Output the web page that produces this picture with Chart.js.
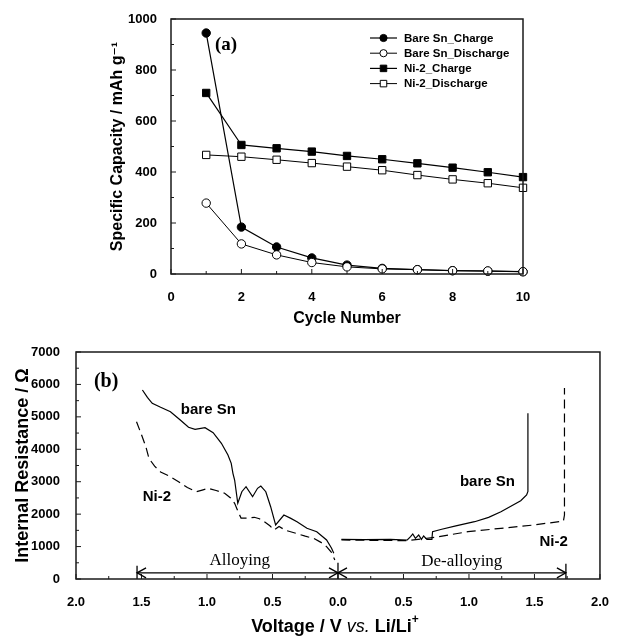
<!DOCTYPE html>
<html><head><meta charset="utf-8">
<script src="https://cdn.jsdelivr.net/npm/chart.js@4.4.1/dist/chart.umd.min.js"></script>
<style>
html,body{margin:0;padding:0;background:#fff;}
#wrapA{position:absolute;left:0;top:0;width:617px;height:335px;}
#wrapB{position:absolute;left:0;top:335px;width:617px;height:302px;}
canvas{display:block;}
</style></head><body>
<div id="wrapA"><canvas id="chartA" width="617" height="335"></canvas></div>
<div id="wrapB"><canvas id="chartB" width="617" height="302"></canvas></div>
<script>
// ---------- Panel (a) data ----------
const cycles = [1,2,3,4,5,6,7,8,9,10];
const bareSnCharge    = [945,184,106,63,35,22,17,13,11,9];
const bareSnDischarge = [278,118,75,45,28,20,17,13,12,9];
const ni2Charge       = [710,506,493,480,463,450,434,417,399,380];
const ni2Discharge    = [467,460,448,435,421,407,388,371,356,338];
const seriesNamesA = ['Bare Sn_Charge','Bare Sn_Discharge','Ni-2_Charge','Ni-2_Discharge'];
const cycleTicks = [0,2,4,6,8,10];
const cycleMinorTicks = [1,3,5,7,9];
const capacityTicks = [0,200,400,600,800,1000];
const capacityMinorTicks = [100,300,500,700,900];

// ---------- Panel (b) data (voltage vs. Li/Li+, resistance in ohm) ----------
// alloying branch (plotted on the left half, voltage decreasing toward 0)
const bareSnAlloyV = [1.493,1.455,1.418,1.354,1.279,1.204,1.141,1.091,1.015,0.953,0.890,0.840,0.815,0.802,0.789,0.765,0.734,0.702,0.652,0.614,0.589,0.551,0.514,0.476,0.413,0.36,0.313,0.237,0.162,0.087,0.049,0.032];
const bareSnAlloyR = [5828,5600,5418,5294,5159,4903,4678,4616,4665,4511,4184,3824,3568,3259,3053,2334,2692,2846,2538,2797,2868,2692,2229,1665,1973,1870,1767,1563,1458,1203,947,792];
const ni2AlloyV = [1.538,1.50,1.467,1.443,1.40,1.354,1.292,1.217,1.15,1.079,1.03,0.991,0.93,0.865,0.82,0.789,0.76,0.740,0.69,0.639,0.60,0.563,0.52,0.488,0.450,0.40,0.313,0.25,0.187,0.13,0.087,0.05,0.024];
const ni2AlloyR = [4851,4450,4080,3720,3480,3300,3180,3000,2820,2692,2750,2797,2730,2643,2500,2334,2050,1880,1880,1903,1860,1767,1640,1511,1620,1500,1400,1320,1255,1130,996,820,586];
// de-alloying branch (right half)
const bareSnDealloyV = [0.026,0.2,0.4,0.529,0.554,0.571,0.591,0.616,0.637,0.654,0.679,0.717,0.722,0.792,0.9,1.043,1.15,1.244,1.395,1.440,1.45,1.45];
const bareSnDealloyR = [1224,1215,1220,1203,1304,1388,1255,1357,1224,1326,1224,1224,1459,1533,1640,1767,1900,2075,2414,2590,2700,5110];
const ni2DealloyV = [0.026,0.2,0.4,0.529,0.742,0.993,1.244,1.495,1.721,1.729,1.729];
const ni2DealloyR = [1203,1195,1190,1181,1286,1459,1563,1665,1788,1973,5890];
const voltageTicks = [-2,-1.5,-1,-0.5,0,0.5,1,1.5,2];
const voltageMinorTicks = [-1.75,-1.25,-0.75,-0.25,0.25,0.75,1.25,1.75];
const resistanceTicks = [0,1000,2000,3000,4000,5000,6000,7000];
const resistanceMinorTicks = [500,1500,2500,3500,4500,5500,6500];
// region arrows (voltage range, y level) and text labels
const alloyingRange = [1.534, 0];
const dealloyingRange = [0, 1.74];
const arrowLevel = 190;

const SANS = "'Liberation Sans', Arial, 'DejaVu Sans', sans-serif";
const SERIF = "'Liberation Serif', 'Times New Roman', serif";
const INK = '#000';

function pts(xs, ys, sign) { return xs.map((v,i)=>({x: sign*v, y: ys[i]})); }

// frame + inward tick marks
const framePlugin = {
  id: 'frame',
  afterDraw(chart, args, opts) {
    const {ctx, chartArea: a, scales: {x, y}} = chart;
    ctx.save();
    ctx.strokeStyle = '#1a1a1a';
    ctx.lineWidth = 1.5;
    ctx.strokeRect(a.left, a.top, a.right - a.left, a.bottom - a.top);
    ctx.lineWidth = 1;
    const drawX = (vals, len) => vals.forEach(v => {
      const px = x.getPixelForValue(v);
      ctx.beginPath(); ctx.moveTo(px, a.bottom); ctx.lineTo(px, a.bottom - len); ctx.stroke();
    });
    const drawY = (vals, len) => vals.forEach(v => {
      const py = y.getPixelForValue(v);
      ctx.beginPath(); ctx.moveTo(a.left, py); ctx.lineTo(a.left + len, py); ctx.stroke();
    });
    drawX(opts.xMajor || [], 5); drawX(opts.xMinor || [], 3);
    drawY(opts.yMajor || [], 5); drawY(opts.yMinor || [], 3);
    ctx.restore();
  }
};

function drawMarker(ctx, style, filled, x, y, r) {
  ctx.beginPath();
  if (style === 'circle') ctx.arc(x, y, r, 0, Math.PI * 2);
  else { const s = r * Math.SQRT1_2; ctx.rect(x - s, y - s, 2 * s, 2 * s); }
  ctx.fillStyle = filled ? INK : '#fff';
  ctx.fill();
  ctx.lineWidth = 1; ctx.strokeStyle = INK; ctx.stroke();
}

const legendPluginA = {
  id: 'legendA',
  afterDraw(chart) {
    const {ctx, chartArea: a} = chart;
    ctx.save();
    chart.data.datasets.forEach((ds, i) => {
      const yy = a.top + 19 + i * 15.2;
      const x0 = a.left + 199, x1 = a.left + 226;
      ctx.strokeStyle = INK; ctx.lineWidth = ds.borderWidth;
      ctx.beginPath(); ctx.moveTo(x0, yy); ctx.lineTo(x1, yy); ctx.stroke();
      drawMarker(ctx, ds.pointStyle, ds.pointBackgroundColor === INK, (x0 + x1) / 2, yy, ds.pointStyle === 'circle' ? 3.6 : 4.6);
      ctx.fillStyle = INK;
      ctx.font = 'bold 11.5px ' + SANS;
      ctx.textAlign = 'left'; ctx.textBaseline = 'middle';
      ctx.fillText(ds.label, a.left + 233, yy + 0.5);
    });
    // panel tag
    const {x, y} = chart.scales;
    ctx.font = 'bold 19px ' + SERIF;
    ctx.textAlign = 'center'; ctx.textBaseline = 'middle';
    ctx.fillText('(a)', x.getPixelForValue(1.5625), y.getPixelForValue(898));
    ctx.restore();
  }
};

const annotPluginB = {
  id: 'annotB',
  afterDraw(chart) {
    const {ctx, chartArea: a, scales: {x, y}} = chart;
    ctx.save();
    ctx.fillStyle = INK; ctx.strokeStyle = INK;
    ctx.textAlign = 'center'; ctx.textBaseline = 'middle';
    ctx.font = 'bold 20px ' + SERIF;
    ctx.fillText('(b)', x.getPixelForValue(-1.77), y.getPixelForValue(6070));
    ctx.font = 'bold 15px ' + SANS;
    ctx.fillText('bare Sn', x.getPixelForValue(-0.99), y.getPixelForValue(5211));
    ctx.fillText('Ni-2', x.getPixelForValue(-1.382), y.getPixelForValue(2528));
    ctx.fillText('bare Sn', x.getPixelForValue(1.141), y.getPixelForValue(2991));
    ctx.fillText('Ni-2', x.getPixelForValue(1.646), y.getPixelForValue(1141));
    ctx.font = '17px ' + SERIF;
    ctx.fillText('Alloying', x.getPixelForValue(-0.75), y.getPixelForValue(555));
    ctx.fillText('De-alloying', x.getPixelForValue(0.945), y.getPixelForValue(524));
    // arrows
    const ay = y.getPixelForValue(arrowLevel);
    const head = (px, dir) => {
      ctx.beginPath();
      ctx.moveTo(px + dir * 9, ay - 5); ctx.lineTo(px, ay); ctx.lineTo(px + dir * 9, ay + 5);
      ctx.stroke();
    };
    const bar = (px, h1, h2) => { ctx.beginPath(); ctx.moveTo(px, ay - h1); ctx.lineTo(px, ay + h2); ctx.stroke(); };
    ctx.lineWidth = 1.3;
    const l0 = x.getPixelForValue(-alloyingRange[0]), l1 = x.getPixelForValue(-alloyingRange[1]);
    const r0 = x.getPixelForValue(dealloyingRange[0]), r1 = x.getPixelForValue(dealloyingRange[1]);
    ctx.beginPath(); ctx.moveTo(l0, ay); ctx.lineTo(l1, ay); ctx.stroke();
    ctx.beginPath(); ctx.moveTo(r0, ay); ctx.lineTo(r1, ay); ctx.stroke();
    head(l0, 1); head(l1, -1); head(r0, 1); head(r1, -1);
    bar(l0, 7, 6); bar(l1, 10, 6); bar(r1, 9, 6);
    // x axis title with mixed styles
    const parts = [
      {t: 'Voltage / V ', f: 'bold 18px ' + SANS, dy: 0},
      {t: 'vs.', f: 'italic 18px ' + SANS, dy: 0},
      {t: ' Li/Li', f: 'bold 18px ' + SANS, dy: 0},
      {t: '+', f: 'bold 12px ' + SANS, dy: -7}
    ];
    let total = 0;
    parts.forEach(p => { ctx.font = p.f; p.w = ctx.measureText(p.t).width; total += p.w; });
    let cx = (a.left + a.right) / 2 - 3 - total / 2;
    const ty = 292;
    ctx.textAlign = 'left'; ctx.textBaseline = 'middle';
    parts.forEach(p => { ctx.font = p.f; ctx.fillText(p.t, cx, ty + p.dy); cx += p.w; });
    ctx.restore();
  }
};

const tickFont = {family: SANS, size: 13, weight: 'bold'};

// ---------- Chart (a) ----------
const styleA = [
  {pointStyle: 'circle', filled: true, r: 4.2, bw: 1.2, order: 2},
  {pointStyle: 'circle', filled: false, r: 4.2, bw: 1, order: 1},
  {pointStyle: 'rect', filled: true, r: 5.2, bw: 1.2, order: 4},
  {pointStyle: 'rect', filled: false, r: 5.2, bw: 1, order: 3}
];
const seriesA = [bareSnCharge, bareSnDischarge, ni2Charge, ni2Discharge];
new Chart(document.getElementById('chartA'), {
  type: 'scatter',
  data: {
    datasets: seriesA.map((vals, i) => ({
      label: seriesNamesA[i],
      data: pts(cycles, vals, 1),
      showLine: true,
      order: styleA[i].order,
      borderColor: INK,
      borderWidth: styleA[i].bw,
      pointStyle: styleA[i].pointStyle,
      pointRadius: styleA[i].r,
      pointBackgroundColor: styleA[i].filled ? INK : '#fff',
      pointBorderColor: INK,
      pointBorderWidth: 1,
      clip: false
    }))
  },
  options: {
    responsive: false, animation: false, events: [],
    layout: {padding: {left: 100, right: 94, top: 19, bottom: 0}},
    plugins: {
      legend: {display: false}, tooltip: {enabled: false},
      frame: {xMajor: cycleTicks, xMinor: cycleMinorTicks, yMajor: capacityTicks, yMinor: capacityMinorTicks}
    },
    scales: {
      x: {
        type: 'linear', min: 0, max: 10,
        afterBuildTicks: s => { s.ticks = cycleTicks.map(v => ({value: v})); },
        afterFit: s => { s.height = 61; },
        ticks: {font: tickFont, color: INK, padding: 8, maxRotation: 0, callback: v => String(v)},
        grid: {display: false}, border: {display: false},
        title: {display: true, text: 'Cycle Number', color: INK, font: {family: SANS, size: 16, weight: 'bold'}, padding: {top: 0, bottom: 7}}
      },
      y: {
        type: 'linear', min: 0, max: 1000,
        afterBuildTicks: s => { s.ticks = capacityTicks.map(v => ({value: v})); },
        afterFit: s => { s.width = 71; },
        ticks: {font: tickFont, color: INK, padding: 6, callback: v => String(v)},
        grid: {display: false}, border: {display: false},
        title: {display: true, text: 'Specific Capacity / mAh g\u207B\u00B9', color: INK, font: {family: SANS, size: 16, weight: 'bold'}, padding: {top: 8, bottom: 0}}
      }
    }
  },
  plugins: [framePlugin, legendPluginA]
});

// ---------- Chart (b) ----------
const lineB = (label, xs, ys, sign, dashed) => ({
  label, data: pts(xs, ys, sign), showLine: true, borderColor: INK,
  borderWidth: 1.2, pointRadius: 0, borderDash: dashed ? [9, 5] : [], tension: 0
});
new Chart(document.getElementById('chartB'), {
  type: 'scatter',
  data: {
    datasets: [
      lineB('bare Sn (alloying)', bareSnAlloyV, bareSnAlloyR, -1, false),
      lineB('bare Sn (de-alloying)', bareSnDealloyV, bareSnDealloyR, 1, false),
      lineB('Ni-2 (alloying)', ni2AlloyV, ni2AlloyR, -1, true),
      lineB('Ni-2 (de-alloying)', ni2DealloyV, ni2DealloyR, 1, true)
    ]
  },
  options: {
    responsive: false, animation: false, events: [],
    layout: {padding: {left: 0, right: 10, top: 17, bottom: 0}},
    plugins: {
      legend: {display: false}, tooltip: {enabled: false},
      frame: {xMajor: voltageTicks, xMinor: voltageMinorTicks, yMajor: resistanceTicks, yMinor: resistanceMinorTicks}
    },
    scales: {
      x: {
        type: 'linear', min: -2, max: 2,
        afterBuildTicks: s => { s.ticks = voltageTicks.map(v => ({value: v})); },
        afterFit: s => { s.height = 58; },
        ticks: {font: tickFont, color: INK, padding: 8, maxRotation: 0, callback: v => Math.abs(v).toFixed(1)},
        grid: {display: false}, border: {display: false}
      },
      y: {
        type: 'linear', min: 0, max: 7000,
        afterBuildTicks: s => { s.ticks = resistanceTicks.map(v => ({value: v})); },
        afterFit: s => { s.width = 76; },
        ticks: {font: tickFont, color: INK, padding: 8, callback: v => String(v)},
        grid: {display: false}, border: {display: false},
        title: {display: true, text: 'Internal Resistance / \u03A9', color: INK, font: {family: SANS, size: 18, weight: 'bold'}, padding: {top: 12, bottom: 0}}
      }
    }
  },
  plugins: [framePlugin, annotPluginB]
});
</script>
</body></html>
